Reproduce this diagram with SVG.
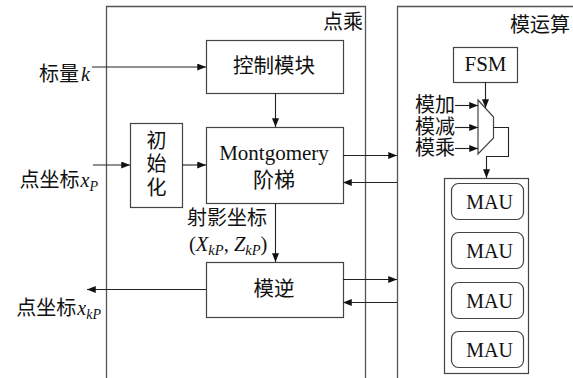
<svg xmlns="http://www.w3.org/2000/svg" width="573" height="378" viewBox="0 0 573 378">
<defs>
<style>
.t{font-family:"Liberation Serif","Noto Sans CJK SC",serif;fill:#111}
.c{text-anchor:middle}
.e{text-anchor:end}
.i{font-style:italic}
.box{fill:#fff;stroke:#444;stroke-width:1.2}
.panel{fill:none;stroke:#555;stroke-width:1.3}
.ln{fill:none;stroke:#222;stroke-width:1.1}
.ar{fill:none;stroke:#222;stroke-width:1.1;marker-end:url(#ah)}
</style>
<marker id="ah" viewBox="0 0 10 8" refX="10" refY="4" markerWidth="9" markerHeight="7" markerUnits="userSpaceOnUse" orient="auto">
<path d="M0,0 L10,4 L0,8 Z" fill="#111"/>
</marker>
</defs>
<g id="panel-dianCheng">
<path class="panel" d="M106.5,378 V6.5 H365.5 V378"/>
<text class="t e" x="363" y="29" font-size="20">点乘</text>
</g>
<g id="panel-moYunSuan">
<path class="panel" d="M397.5,378 V6.5 H573"/>
<text class="t e" x="570" y="32" font-size="20">模运算</text>
</g>
<g id="in-k"><text class="t e" x="90" y="81" font-size="20">标量<tspan class="i" dx="2">k</tspan></text></g>
<g id="in-xp"><text class="t e" x="98" y="187" font-size="20">点坐标<tspan class="i" dx="1">x</tspan><tspan class="i" font-size="14" dy="4">P</tspan></text></g>
<g id="out-xkp"><text class="t e" x="101" y="315" font-size="20">点坐标<tspan class="i" dx="1">x</tspan><tspan class="i" font-size="14" dy="4">kP</tspan></text></g>
<g id="control"><rect class="box" x="206.5" y="40.5" width="137" height="53"/><text class="t c" x="274" y="73" font-size="20.5">控制模块</text></g>
<g id="montgomery"><rect class="box" x="206.5" y="127.5" width="137" height="76"/><text class="t c" x="274" y="160" font-size="21">Montgomery</text><text class="t c" x="274" y="187" font-size="21">阶梯</text></g>
<g id="init"><rect class="box" x="130.5" y="123.5" width="52" height="84"/><text class="t c" x="156.5" y="148" font-size="20">初</text><text class="t c" x="156.5" y="171" font-size="20">始</text><text class="t c" x="156.5" y="195" font-size="20">化</text></g>
<g id="projective-label"><text class="t" x="187" y="225" font-size="20">射影坐标</text><text class="t" x="189" y="251" font-size="20.5">(<tspan class="i">X</tspan><tspan class="i" font-size="14.5" dy="4">kP</tspan><tspan dy="-4">, </tspan><tspan class="i">Z</tspan><tspan class="i" font-size="14.5" dy="4">kP</tspan><tspan dy="-4">)</tspan></text></g>
<g id="inverse"><rect class="box" x="206.5" y="262.5" width="137" height="55"/><text class="t c" x="274" y="296" font-size="20.5">模逆</text></g>
<g id="fsm"><rect class="box" x="453.5" y="47.5" width="64" height="35"/><text class="t c" x="485.5" y="71" font-size="21">FSM</text></g>
<g id="mux"><path class="box" d="M478,100 L493.5,117 V138 L478,154 Z"/>
<text class="t e" x="455" y="112" font-size="20">模加</text>
<text class="t e" x="455" y="134" font-size="20">模减</text>
<text class="t e" x="455" y="155" font-size="20">模乘</text></g>
<g id="mau-array"><rect class="box" x="444.5" y="178.5" width="84" height="195"/>
<g id="mau1"><rect class="box" x="451.5" y="183.5" width="72" height="36" rx="7"/><text class="t c" x="489.5" y="209" font-size="20">MAU</text></g>
<g id="mau2"><rect class="box" x="451.5" y="232.5" width="72" height="36" rx="7"/><text class="t c" x="489.5" y="258" font-size="20">MAU</text></g>
<g id="mau3"><rect class="box" x="451.5" y="282.5" width="72" height="36" rx="7"/><text class="t c" x="489.5" y="308" font-size="20">MAU</text></g>
<g id="mau4"><rect class="box" x="451.5" y="331.5" width="72" height="36" rx="7"/><text class="t c" x="489.5" y="357" font-size="20">MAU</text></g>
</g>
<g id="connectors">
<line class="ar" x1="92" y1="67" x2="206" y2="67"/>
<line class="ar" x1="93" y1="165" x2="130" y2="165"/>
<line class="ar" x1="182" y1="165" x2="206" y2="165"/>
<line class="ar" x1="275.5" y1="93" x2="275.5" y2="127"/>
<line class="ar" x1="343" y1="155.5" x2="397" y2="155.5"/>
<line class="ar" x1="397" y1="182.5" x2="343" y2="182.5"/>
<line class="ar" x1="275.5" y1="203" x2="275.5" y2="262"/>
<line class="ar" x1="206" y1="289.5" x2="87" y2="289.5"/>
<line class="ar" x1="343" y1="279.5" x2="397" y2="279.5"/>
<line class="ar" x1="397" y1="302.5" x2="343" y2="302.5"/>
<line class="ar" x1="485.5" y1="82" x2="485.5" y2="108"/>
<line class="ar" x1="455" y1="105.5" x2="478" y2="105.5"/>
<line class="ar" x1="455" y1="127.5" x2="478" y2="127.5"/>
<line class="ar" x1="455" y1="148.5" x2="478" y2="148.5"/>
<polyline class="ar" points="493.5,127.5 508.5,127.5 508.5,156.5 486.5,156.5 486.5,178"/>
</g>
</svg>
